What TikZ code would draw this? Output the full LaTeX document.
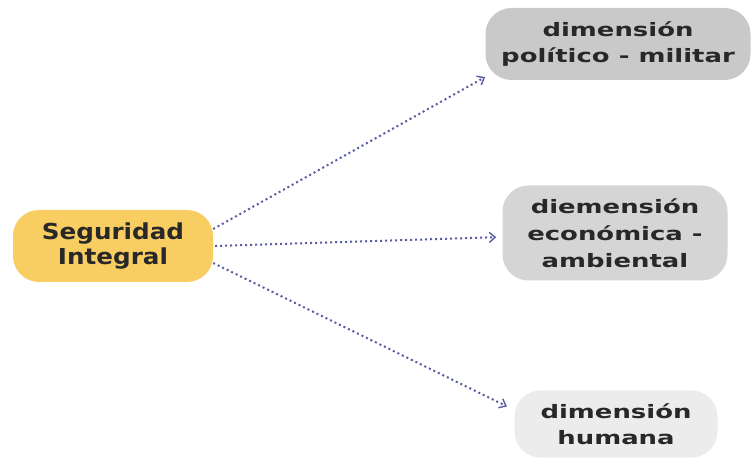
\documentclass[tikz,border=0pt]{standalone}
\usepackage{fontspec}
\usetikzlibrary{arrows.meta}
\newfontfamily\segfont[FakeStretch=1.12]{DejaVu Sans Bold}
\newfontfamily\dimfont[FakeStretch=1.4]{DejaVu Sans Bold}
\definecolor{segyellow}{RGB}{248,205,98}
\definecolor{graydark}{RGB}{201,201,201}
\definecolor{graymid}{RGB}{213,213,213}
\definecolor{graylight}{RGB}{236,236,236}
\definecolor{linkblue}{RGB}{88,92,162}
\definecolor{inktext}{RGB}{40,40,40}
\begin{document}
\begin{tikzpicture}[x=1pt,y=1pt,
  box/.style={rounded corners=26pt, inner sep=0pt, align=center, text=inktext},
  link/.style={linkblue, line width=2pt, dash pattern=on 2pt off 3pt,
    -{Straight Barb[length=6pt,width=10pt,line width=1.4pt]}, shorten >=6pt}]
\useasboundingbox (0,0) rectangle (751,460);
\node[box, fill=segyellow, minimum width=200pt, minimum height=72pt,
  font=\segfont\fontsize{22}{25}\selectfont] (seg) at (113,214) {Seguridad\\Integral};
\node[box, fill=graydark, minimum width=265pt, minimum height=72pt,
  font=\dimfont\fontsize{18.5}{26}\selectfont] (pol) at (618,416) {dimensión\\político - militar};
\node[box, fill=graymid, minimum width=225pt, minimum height=95pt,
  font=\dimfont\fontsize{18.5}{27}\selectfont] (eco) at (615,227) {diemensión\\económica -\\ambiental};
\node[box, fill=graylight, minimum width=203pt, minimum height=67pt,
  font=\dimfont\fontsize{18.5}{26}\selectfont] (hum) at (616,36) {dimensión\\humana};
\draw[link] ([yshift=17pt]seg.east) -- ([xshift=5pt,yshift=6pt]pol.south west);
\draw[link] ([xshift=2pt]seg.east) -- ([yshift=-4pt]eco.west);
\draw[link] ([yshift=-17pt]seg.east) -- ([xshift=-2pt,yshift=15pt]hum.west);
\end{tikzpicture}
\end{document}
